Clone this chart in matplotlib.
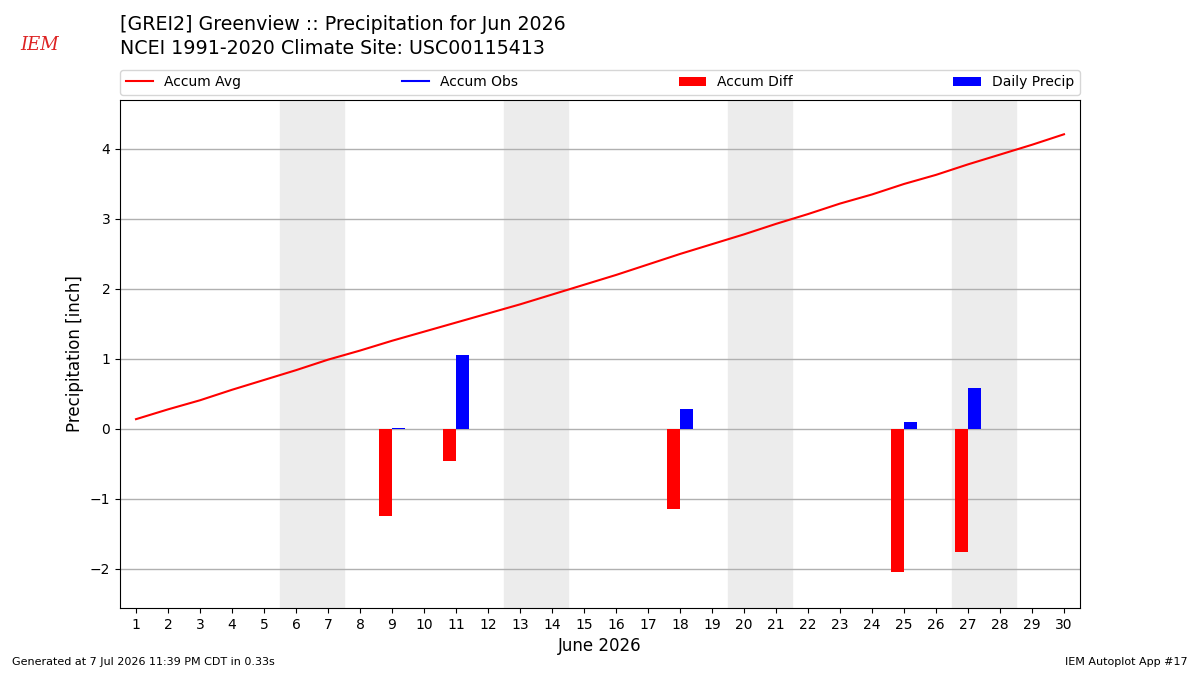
import numpy as np
import matplotlib.pyplot as plt

days = np.arange(1, 31)
accum_avg = [0.14, 0.28, 0.41, 0.56, 0.70, 0.84, 0.99, 1.12, 1.26, 1.39,
             1.52, 1.65, 1.78, 1.92, 2.06, 2.20, 2.35, 2.50, 2.64, 2.78,
             2.93, 3.07, 3.22, 3.35, 3.50, 3.63, 3.78, 3.92, 4.06, 4.21]
precip_days = [9, 11, 18, 25, 27]
daily_precip = [0.02, 1.05, 0.29, 0.10, 0.58]
accum_diff = [-1.24, -0.46, -1.14, -2.04, -1.76]
weekends = [(6, 7), (13, 14), (20, 21), (27, 28)]

fig = plt.figure(figsize=(12, 6.75), dpi=100)
ax = fig.add_axes([0.1, 0.0993, 0.8, 0.7526])

for a, b in weekends:
    ax.axvspan(a - 0.5, b + 0.5, color="#ececec", zorder=0)

ax.plot(days, accum_avg, color="r", lw=1.5, label="Accum Avg", zorder=3)
ax.plot([], [], color="b", lw=1.5, label="Accum Obs")
ax.bar(precip_days, accum_diff, width=-0.4, align="edge", color="r",
       label="Accum Diff", zorder=3)
ax.bar(precip_days, daily_precip, width=0.4, align="edge", color="b",
       label="Daily Precip", zorder=3)

ax.set_xlim(0.5, 30.5)
ax.set_ylim(-2.557, 4.70)
ax.set_xticks(days)
ax.set_yticks([-2, -1, 0, 1, 2, 3, 4])
ax.yaxis.grid(True, color="#b0b0b0", lw=1, zorder=1)
ax.set_axisbelow(True)
ax.set_ylabel("Precipitation [inch]", fontsize=12)
ax.set_xlabel("June 2026", fontsize=12)
ax.legend(loc="lower left", bbox_to_anchor=(0, 1.01, 1, 0.1), mode="expand",
          ncol=4, borderaxespad=0, fontsize=10)

fig.text(0.1, 0.963, "[GREI2] Greenview :: Precipitation for Jun 2026",
         fontsize=13.7, va="center")
fig.text(0.1, 0.928, "NCEI 1991-2020 Climate Site: USC00115413",
         fontsize=13.7, va="center")
fig.text(0.017, 0.933, "IEM", color="#dd2222", fontsize=13, style="italic",
         family="serif", va="center")
fig.text(0.01, 0.015, "Generated at 7 Jul 2026 11:39 PM CDT in 0.33s", fontsize=8)
fig.text(0.99, 0.015, "IEM Autoplot App #17", fontsize=8, ha="right")

fig.savefig("out.png", dpi=100)
